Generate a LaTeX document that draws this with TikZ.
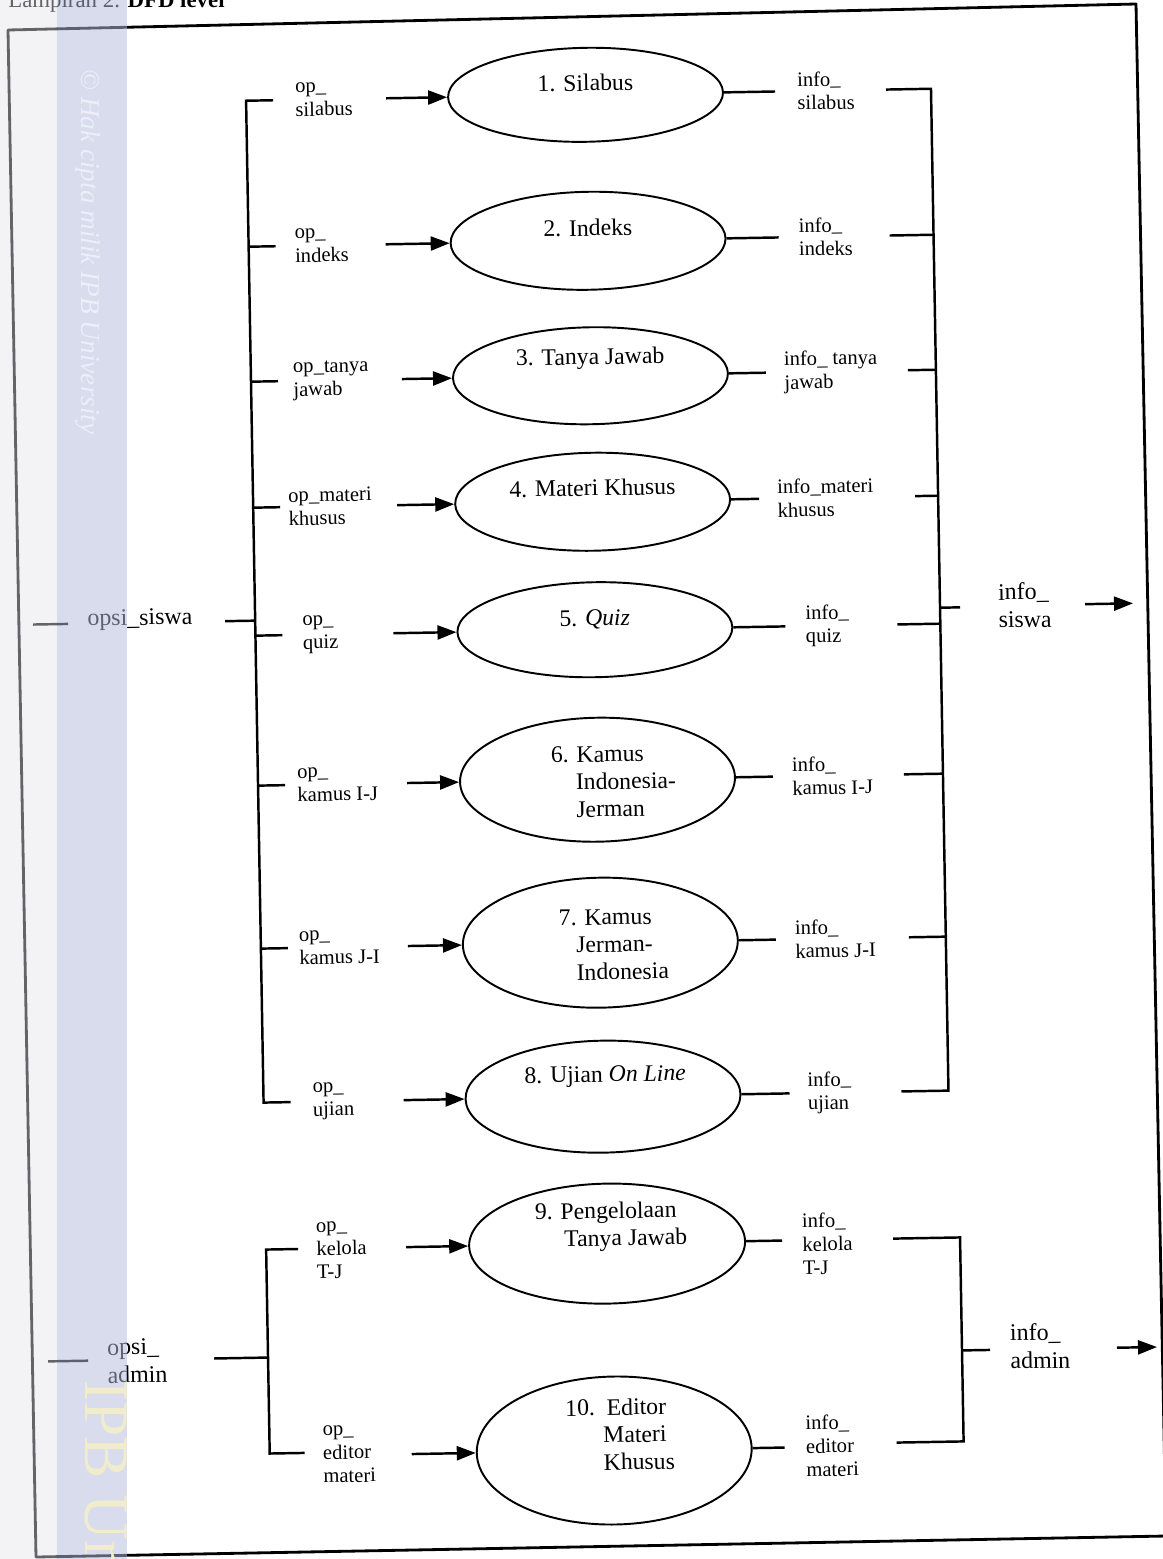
\documentclass[tikz,border=0pt]{standalone}
\usepackage{fontspec}
\setmainfont{Liberation Serif}
\usetikzlibrary{arrows.meta,shapes.geometric}
\definecolor{bandL}{RGB}{228,228,236}
\definecolor{bandB}{RGB}{179,187,221}
\definecolor{wmA}{RGB}{236,238,248}
\definecolor{wmB}{RGB}{241,237,204}
\begin{document}
\begin{tikzpicture}[x={(0.02cm,0)},y={(0,-0.02cm)},
  ln/.style={line width=1.4pt},
  arr/.style={line width=1.4pt,-{Triangle[length=0.38cm,width=0.28cm]}},
  proc/.style={draw,ellipse,line width=1.1pt,inner sep=0pt,minimum width=5.5cm},
  ptext/.style={font=\fontsize{13.5}{15.6}\selectfont,inner sep=0pt},
  ptextl/.style={ptext,align=left,anchor=west},
  lbl/.style={font=\fontsize{11.7}{13.3}\selectfont,inner sep=0pt,align=left,anchor=west},
  big/.style={font=\fontsize{13.6}{15.9}\selectfont,inner sep=0pt,align=left,anchor=west}]
\useasboundingbox (0,0) rectangle (1163,1559);
\fill[white] (0,0) rectangle (1163,1559);

% header (cut by the page edge, as in the scan)
\node[anchor=base west,inner sep=0pt,font=\fontsize{13}{15}\selectfont] (hdr) at (8,7) {Lampiran 2. \textbf{DFD level}};

% frame
\draw[line width=1.6pt,line join=round] (8,30) -- (1136,4) -- (1166,1536) -- (36,1557) -- cycle;

\begin{scope}[rotate around={1:(580,780)},transform shape]
% student rows
\foreach \i/\y/\h/\ax/\rx/\rsx in {
  1/95/1.88cm/398/787/898,
  2/241/1.96cm/395/788/899,
  3/376/1.94cm/409/773/915,
  4/502/1.96cm/402/764/920,
  5/630/1.90cm/396/788/900,
  6/780/2.48cm/407/773/904,
  7/943/2.60cm/405/773/906,
  8/1097/2.24cm/398/784/896}{
  \node[proc,minimum height=\h] (e\i) at (597.5,\y) {};
  \coordinate (a\i) at (\ax,\y);
  \coordinate (lb\i) at (258,\y);
  \coordinate (ls\i) at (285,\y);
  \coordinate (re\i) at (\rx,\y);
  \coordinate (rs\i) at (\rsx,\y);
  \coordinate (rb\i) at (943,\y);
  \draw[arr] (a\i) -- (e\i.west);
  \draw[ln] (e\i.east) -- (re\i);
}
% process texts
\node[ptext] (t1) at (597.5,83) {1. Silabus};
\node[ptext] (t2) at (597.5,228) {2. Indeks};
\node[ptext] (t3) at (597.5,359) {3. Tanya Jawab};
\node[ptext] (t4) at (597.5,488) {4. Materi Khusus};
\node[ptext] (t5) at (597.5,620) {5. \textit{Quiz}};
\node[ptextl] (t6) at (551,782) {6. Kamus\\\hspace*{0.49cm}Indonesia-\\\hspace*{0.49cm}Jerman};
\node[ptextl] (t7) at (556,945) {7. Kamus\\\hspace*{0.34cm}Jerman-\\\hspace*{0.34cm}Indonesia};
\node[ptext] (t8) at (600,1077) {8. Ujian \textit{On Line}};

% left labels
\node[lbl] (o1) at (307,95) {op\_\\silabus};
\node[lbl] (o2) at (304,241) {op\_\\indeks};
\node[lbl] (o3) at (300,376) {op\_tanya\\jawab};
\node[lbl] (o4) at (293,502) {op\_materi\\khusus};
\node[lbl] (o5) at (305,630) {op\_\\quiz};
\node[lbl] (o6) at (297,780) {op\_\\kamus I-J};
\node[lbl] (o7) at (296,943) {op\_\\kamus J-I};
\node[lbl] (o8) at (307,1097) {op\_\\ujian};

% right labels
\node[lbl] (i1) at (809,95) {info\_\\silabus};
\node[lbl] (i2) at (808,241) {info\_\\indeks};
\node[lbl] (i3) at (791,376) {info\_ tanya\\jawab};
\node[lbl] (i4) at (782,502) {info\_materi\\khusus};
\node[lbl] (i5) at (808,630) {info\_\\quiz};
\node[lbl] (i6) at (792,780) {info\_\\kamus I-J};
\node[lbl] (i7) at (792,943) {info\_\\kamus J-I};
\node[lbl] (i8) at (802,1097) {info\_\\ujian};

% left bus (student)
\draw[ln] (ls1) -- (lb1) -- (lb8) -- (ls8);
\foreach \i in {2,...,7} \draw[ln] (lb\i) -- (ls\i);
% right bus (student)
\draw[ln] (rs1) -- (rb1) -- (rb8) -- (rs8);
\foreach \i in {2,...,7} \draw[ln] (rs\i) -- (rb\i);

% opsi_siswa
\coordinate (os0) at (36,615);
\coordinate (os0e) at (71,615);
\node[big] (opsis) at (90,612) {opsi\_siswa};
\coordinate (os1) at (228,615);
\coordinate (osj) at (258,615);
\draw[ln] (os0) -- (os0e);
\draw[ln] (os1) -- (osj);

% info_siswa
\coordinate (rbo) at (943,614);
\coordinate (rso) at (963,614);
\draw[ln] (rbo) -- (rso);
\node[big] (isis) at (1001,613) {info\_\\siswa};
\coordinate (ao1) at (1088,613);
\coordinate (ao2) at (1136,613);
\draw[arr] (ao1) -- (ao2);

% admin processes
\node[proc,minimum width=5.52cm,minimum height=2.4cm] (e9) at (599,1244) {};
\node[proc,minimum height=2.96cm] (e10) at (602.5,1451) {};
\node[ptextl] (t9) at (527,1227) {9. Pengelolaan\\\hspace*{0.58cm}Tanya Jawab};
\node[ptextl] (t10) at (554,1435) {10.~~Editor\\\hspace*{0.75cm}Materi\\\hspace*{0.75cm}Khusus};

\coordinate (a9) at (398,1244);
\coordinate (a10) at (400,1451);
\draw[arr] (a9) -- (e9.west);
\draw[arr] (a10) -- (e10.west);

\coordinate (lb9) at (258,1244);
\coordinate (lb10) at (258,1448);
\coordinate (ls9) at (290,1244);
\coordinate (ls10) at (293,1448);
\draw[ln] (ls9) -- (lb9) -- (lb10) -- (ls10);

\node[lbl] (o9) at (308,1246) {op\_\\kelola\\T-J};
\node[lbl] (o10) at (311,1450) {op\_\\editor\\materi};

\coordinate (re9) at (774,1244);
\coordinate (re10) at (773,1451);
\draw[ln] (e9.east) -- (re9);
\draw[ln] (e10.east) -- (re10);
\node[lbl] (i9) at (794,1248) {info\_\\kelola\\T-J};
\node[lbl] (i10) at (794,1450) {info\_\\editor\\materi};

\coordinate (rs9) at (885,1244);
\coordinate (rb9) at (952,1244);
\coordinate (rb10) at (952,1448);
\coordinate (rs10) at (885,1448);
\draw[ln] (rs9) -- (rb9) -- (rb10) -- (rs10);

% opsi_admin
\coordinate (oa0) at (38,1352);
\coordinate (oa0e) at (78,1352);
\node[big] (opsia) at (97,1353) {opsi\_\\admin};
\coordinate (oa1) at (204,1352);
\coordinate (oaj) at (258,1352);
\draw[ln] (oa0) -- (oa0e);
\draw[ln] (oa1) -- (oaj);

% info_admin
\coordinate (rbo2) at (952,1357);
\coordinate (rso2) at (980,1357);
\draw[ln] (rbo2) -- (rso2);
\node[big] (iadm) at (1000,1354) {info\_\\admin};
\coordinate (ao3) at (1107,1357);
\coordinate (ao4) at (1147,1357);
\draw[arr] (ao3) -- (ao4);
\end{scope}

% watermark band
\fill[bandL,opacity=0.44] (0,0) rectangle (57,1559);
\fill[bandB,opacity=0.51] (57,0) rectangle (127,1559);
\node[rotate=-90,text=wmA,font=\fontsize{15.5}{18}\selectfont\itshape,inner sep=0pt] (wm1) at (88,252) {© Hak cipta milik IPB University};
\node[rotate=-90,anchor=west,text=wmB,font=\fontsize{36}{40}\selectfont,inner sep=0pt] (wm2) at (100,1380) {IPB University};
\end{tikzpicture}
\end{document}
